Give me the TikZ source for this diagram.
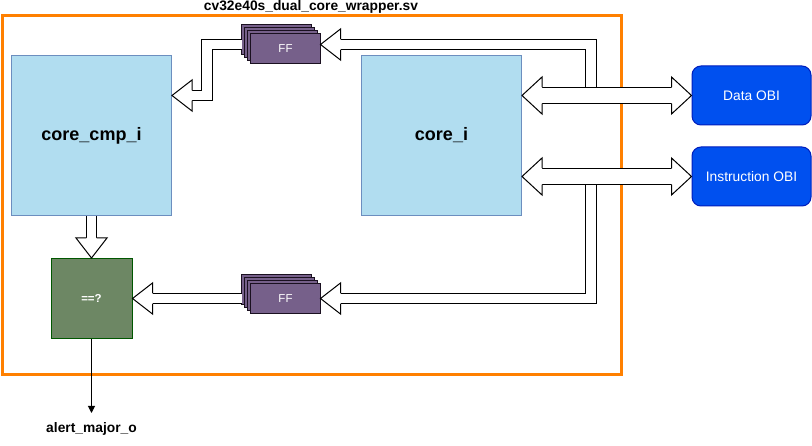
\documentclass[tikz,border=0pt]{standalone}
\usepackage{fontspec}
\setmainfont{Liberation Sans}
\usepackage{xcolor}
\usepackage{tikz}
\usetikzlibrary{arrows.meta, positioning, calc, backgrounds}

\definecolor{wrapframe}{HTML}{FF8000}
\definecolor{coreblue}{HTML}{B1DDF0}
\definecolor{coreline}{HTML}{6C8EBF}
\definecolor{obiblue}{HTML}{0050EF}
\definecolor{obiline}{HTML}{001DBC}
\definecolor{ffpurple}{HTML}{76608A}
\definecolor{ffline}{HTML}{1A1020}
\definecolor{eqgreen}{HTML}{6D8764}
\definecolor{eqline}{HTML}{005700}

% hollow head of a wide arrow: tip, angle, shaft half width, head half width
\newcommand{\flexhead}[4]{%
  \draw[line width=1pt, fill=white, shift={#1}, rotate=#2]
    (-20pt,#3) -- (-20pt,#4) -- (0pt,0pt) -- (-20pt,-#4) -- (-20pt,-#3);}

\begin{document}
\begin{tikzpicture}[x=1pt, y=-1pt,
  core/.style={rectangle, draw=coreline, fill=coreblue, line width=1pt, minimum width=160pt, minimum height=160pt, font=\fontsize{18}{21}\selectfont\bfseries},
  obi/.style={rectangle, rounded corners=9pt, draw=obiline, fill=obiblue, line width=1pt, minimum width=119pt, minimum height=59pt, text=white, font=\fontsize{13.8}{16}\selectfont},
  ffbox/.style={rectangle, draw=ffline, fill=ffpurple, line width=1pt, outer sep=0pt, minimum width=70pt, minimum height=30pt, text=white, font=\fontsize{11.5}{13}\selectfont},
  ffback/.style={draw=ffline, fill=ffpurple, line width=1pt},
  eqbox/.style={rectangle, draw=eqline, fill=eqgreen, line width=1pt, minimum width=81pt, minimum height=80pt, text=white, font=\fontsize{11.5}{13}\selectfont\bfseries},
  lbl/.style={font=\fontsize{13.8}{16}\selectfont\bfseries, inner sep=0pt},
  flexsmall/.style={draw=black, line width=1pt, double=white, double distance=9.3pt},
  flexbig/.style={draw=black, line width=1pt, double=white, double distance=15.5pt}]
\useasboundingbox (0,0) rectangle (812,446);

% wrapper
\draw[wrapframe, line width=3pt] (2.5,15.5) rectangle (621,375);
\node[lbl, anchor=base] (title) at (311,10.3) {cv32e40s\_dual\_core\_wrapper.sv};

\node[core] (cmp) at (91.5,135.5) {core\_cmp\_i};
\node[core] (core) at (441.5,135.5) {core\_i};
\node[obi] (data) at (751.5,95.5) {Data OBI};
\node[obi, below=21pt of data] (instr) {Instruction OBI};
\node[ffbox] (ffa) at (285.5,49) {FF};
\node[ffbox] (ffb) at (285.5,298.5) {FF};
\node[eqbox] (eq) at (91.5,298.5) {==?};
\node[lbl, anchor=north] (alert) at (91.5,422.5) {alert\_major\_o};

% stacked flops
\begin{scope}[on background layer]
\foreach \n in {ffa,ffb}
  \foreach \d in {9,6,3}
    \draw[ffback] ($(\n.north west)+(-\d,-\d)$) rectangle ++(70,30);
\end{scope}

\coordinate (tapd) at ($(data.west)+(-100.5,0)$);
\coordinate (tapi) at ($(instr.west)+(-100.5,0)$);
\coordinate (fbin) at ($(cmp.east)+(0,-40)$);

% delayed copies
\draw[flexsmall, shorten >=20pt] (tapd) |- ($(ffa.east)+(0,-4.5)$);
\flexhead{($(ffa.east)+(0,-4.5)$)}{180}{5.15pt}{15.5pt}
\draw[flexsmall, shorten >=20pt] ($(ffa.west)+(-9,-4.5)$) -| ($(fbin)+(35,0)$) -- (fbin);
\flexhead{(fbin)}{180}{5.15pt}{15.5pt}
\draw[flexsmall, shorten >=20pt] (tapi) |- (ffb.east);
\flexhead{(ffb.east)}{180}{5.15pt}{15.5pt}
\draw[flexsmall, shorten >=20pt] ($(ffb.west)+(-9,0)$) -- (eq.east);
\flexhead{(eq.east)}{180}{5.15pt}{15.5pt}
\draw[flexsmall, shorten >=20pt] (cmp.south) -- (eq.north);
\flexhead{(eq.north)}{-90}{5.15pt}{15.5pt}

% OBI ports
\draw[flexbig, shorten <=20pt, shorten >=20pt] (core.east |- data.west) -- (data.west);
\flexhead{(data.west)}{0}{8.25pt}{18.5pt}
\flexhead{(core.east |- data.west)}{180}{8.25pt}{18.5pt}
\draw[flexbig, shorten <=20pt, shorten >=20pt] (core.east |- instr.west) -- (instr.west);
\flexhead{(instr.west)}{0}{8.25pt}{18.5pt}
\flexhead{(core.east |- instr.west)}{180}{8.25pt}{18.5pt}

\draw[line width=1pt, -{Triangle[length=7pt, width=7pt]}, shorten >=9.5pt] (eq.south) -- (alert.north);
\end{tikzpicture}
\end{document}
